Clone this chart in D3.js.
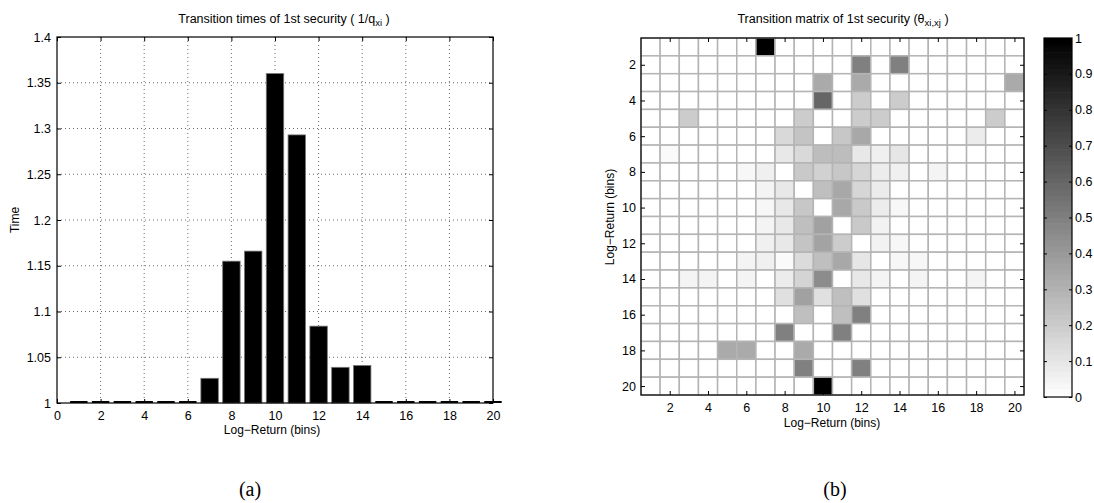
<!DOCTYPE html>
<html>
<head>
<meta charset="utf-8">
<script src="https://cdn.jsdelivr.net/npm/d3@7"></script>
<style>
  body { margin: 0; background: #fff; }
  svg { display: block; }
  text { font-family: "Liberation Sans", Arial, sans-serif; fill: #000; }
  .cap { font-family: "Liberation Serif", "DejaVu Serif", serif; }
</style>
</head>
<body>
<svg id="fig" width="1094" height="503"></svg>
<script>
// bins 1..20
const bins = d3.range(1, 21);
// mean transition time per bin (1/q_xi)
const transitionTimes = [1, 1, 1, 1, 1, 1, 1.027, 1.155, 1.166, 1.36, 1.293, 1.084, 1.039, 1.041, 1, 1, 1, 1, 1, 1];
const timeTicks = [1, 1.05, 1.1, 1.15, 1.2, 1.25, 1.3, 1.35, 1.4];
const binTicksA = d3.range(0, 21, 2);
const binTicksB = d3.range(2, 21, 2);
const colorTicks = d3.range(0, 11).map(d => d / 10);

// transition matrix theta (row = from bin, col = to bin)
const theta = [
  [0,0,0,0,0,0,1,0,0,0,0,0,0,0,0,0,0,0,0,0],
  [0,0,0,0,0,0,0,0,0,0,0,.5,0,.5,0,0,0,0,0,0],
  [0,0,0,0,0,0,0,0,0,.333,0,.333,0,0,0,0,0,0,0,.333],
  [0,0,0,0,0,0,0,0,0,.6,0,.2,0,.2,0,0,0,0,0,0],
  [0,0,.2,0,0,0,0,0,.2,0,0,.2,.2,0,0,0,0,0,.2,0],
  [0,0,0,0,0,0,0,.15,.23,0,.22,.34,0,0,0,0,0,.075,0,0],
  [0,.02,0,0,0,0,0,.09,.15,.26,.26,.09,.06,.1,0,0,0,0,0,0],
  [0,0,0,0,0,.03,.06,0,.21,.18,.22,.16,.075,.06,0,.045,0,0,0,0],
  [0,0,0,0,0,0,.045,.09,0,.25,.34,.16,.075,0,0,0,0,0,0,0],
  [0,0,0,0,0,0,.03,.09,.22,0,.34,.21,.075,.03,0,0,0,0,0,0],
  [0,0,0,0,0,0,.045,.09,.25,.37,0,.21,.05,0,0,0,0,0,0,0],
  [0,0,0,0,0,0,.06,.09,.23,.36,.2,0,.05,.03,0,0,0,0,0,0],
  [0,0,0,0,0,.045,.06,.02,.14,.25,.34,.1,0,.03,.03,0,0,0,0,0],
  [0,0,.045,.045,0,.045,0,.075,.17,.45,0,.09,.045,0,.045,0,0,.045,0,0],
  [0,0,0,0,0,0,0,.12,.37,.12,.25,.12,0,0,0,0,0,0,0,0],
  [0,0,0,0,0,0,0,0,.25,0,.25,.5,0,0,0,0,0,0,0,0],
  [0,0,0,0,0,0,0,.5,0,0,.5,0,0,0,0,0,0,0,0,0],
  [0,0,0,0,.333,.333,0,0,.333,0,0,0,0,0,0,0,0,0,0,0],
  [0,0,0,0,0,0,0,0,.5,0,0,.5,0,0,0,0,0,0,0,0],
  [0,0,0,0,0,0,0,0,0,1,0,0,0,0,0,0,0,0,0,0]
];

const svg = d3.select("#fig");

// ---------- (a) bar chart ----------
const A = {left: 57, right: 493, top: 37, bottom: 403};
const xA = d3.scaleLinear().domain([0, 20]).range([A.left, A.right]);
const yA = d3.scaleLinear().domain([1, 1.4]).range([A.bottom, A.top]);
const gA = svg.append("g");

// dotted grid
gA.selectAll(".gx").data(binTicksA.slice(1, -1)).join("line")
  .attr("x1", d => xA(d)).attr("x2", d => xA(d))
  .attr("y1", A.top).attr("y2", A.bottom)
  .attr("stroke", "#444").attr("stroke-width", 0.8).attr("stroke-dasharray", "1,3");
gA.selectAll(".gy").data(timeTicks.slice(1, -1)).join("line")
  .attr("x1", A.left).attr("x2", A.right)
  .attr("y1", d => yA(d)).attr("y2", d => yA(d))
  .attr("stroke", "#444").attr("stroke-width", 0.8).attr("stroke-dasharray", "1,3");

gA.selectAll("rect.bar").data(bins).join("rect")
  .attr("class", "bar")
  .attr("x", d => xA(d - 0.4))
  .attr("width", xA(0.8) - xA(0))
  .attr("y", (d, i) => yA(transitionTimes[i]))
  .attr("height", (d, i) => yA(1) - yA(transitionTimes[i]))
  .attr("fill", "#000").attr("stroke", "#777").attr("stroke-width", 0.8);
// zero-height bars show as thick baseline segments
gA.selectAll("line.zb").data(bins.filter((d, i) => transitionTimes[i] === 1)).join("line")
  .attr("x1", d => xA(d - 0.4)).attr("x2", d => xA(d + 0.4))
  .attr("y1", yA(1) - 1).attr("y2", yA(1) - 1)
  .attr("stroke", "#000").attr("stroke-width", 2);

// axes with inward ticks, box
gA.append("g").attr("transform", `translate(0,${A.bottom})`)
  .call(d3.axisBottom(xA).tickValues(binTicksA).tickSize(-4).tickPadding(8).tickFormat(d3.format("d")));
gA.append("g").attr("transform", `translate(0,${A.top})`)
  .call(d3.axisTop(xA).tickValues(binTicksA).tickSize(-4).tickFormat(""));
gA.append("g").attr("transform", `translate(${A.left},0)`)
  .call(d3.axisLeft(yA).tickValues(timeTicks).tickSize(-4).tickPadding(6).tickFormat(d => String(+d.toFixed(2))));
gA.append("g").attr("transform", `translate(${A.right},0)`)
  .call(d3.axisRight(yA).tickValues(timeTicks).tickSize(-4).tickFormat(""));
gA.selectAll(".domain").remove();
gA.selectAll(".tick line").attr("stroke", "#000");
gA.selectAll(".tick text").attr("font-size", 12.5).attr("font-family", "Liberation Sans, Arial, sans-serif");
gA.append("rect").attr("x", A.left).attr("y", A.top)
  .attr("width", A.right - A.left).attr("height", A.bottom - A.top)
  .attr("fill", "none").attr("stroke", "#000").attr("stroke-width", 1.2);

const tA = gA.append("text").attr("x", 284).attr("y", 23).attr("text-anchor", "middle").attr("font-size", 12.5);
tA.append("tspan").text("Transition times of 1st security ( 1/q");
tA.append("tspan").attr("dy", 3).attr("font-size", 9.5).text("xi");
tA.append("tspan").attr("dy", -3).text(" )");
gA.append("text").attr("x", 272).attr("y", 434).attr("text-anchor", "middle").attr("font-size", 12).text("Log\u2212Return (bins)");
gA.append("text").attr("transform", "translate(19,220) rotate(-90)").attr("text-anchor", "middle").attr("font-size", 12).text("Time");
gA.append("text").attr("class", "cap").attr("x", 250).attr("y", 496).attr("text-anchor", "middle").attr("font-size", 20).text("(a)");

// ---------- (b) heat map ----------
const B = {left: 641, right: 1024, top: 38, bottom: 395};
const xB = d3.scaleLinear().domain([0.5, 20.5]).range([B.left, B.right]);
const yB = d3.scaleLinear().domain([0.5, 20.5]).range([B.top, B.bottom]);
const shade = d3.scaleLinear().domain([0, 1]).range(["#ffffff", "#000000"]);
const gB = svg.append("g");

const cells = theta.flatMap((row, r) => row.map((v, c) => ({r: r + 1, c: c + 1, v})));
gB.selectAll("rect.cell").data(cells).join("rect")
  .attr("class", "cell")
  .attr("x", d => xB(d.c - 0.5)).attr("y", d => yB(d.r - 0.5))
  .attr("width", xB(1.5) - xB(0.5)).attr("height", yB(1.5) - yB(0.5))
  .attr("fill", d => shade(d.v))
  .attr("stroke", "#b4b4b4").attr("stroke-width", 1.5);

gB.append("g").attr("transform", `translate(0,${B.bottom})`)
  .call(d3.axisBottom(xB).tickValues(binTicksB).tickSize(-4).tickPadding(8));
gB.append("g").attr("transform", `translate(0,${B.top})`)
  .call(d3.axisTop(xB).tickValues(binTicksB).tickSize(-4).tickFormat(""));
gB.append("g").attr("transform", `translate(${B.left},0)`)
  .call(d3.axisLeft(yB).tickValues(binTicksB).tickSize(-4).tickPadding(5));
gB.append("g").attr("transform", `translate(${B.right},0)`)
  .call(d3.axisRight(yB).tickValues(binTicksB).tickSize(-4).tickFormat(""));
gB.selectAll(".domain").remove();
gB.selectAll(".tick line").attr("stroke", "#000");
gB.selectAll(".tick text").attr("font-size", 12.5).attr("font-family", "Liberation Sans, Arial, sans-serif");
gB.append("rect").attr("x", B.left).attr("y", B.top)
  .attr("width", B.right - B.left).attr("height", B.bottom - B.top)
  .attr("fill", "none").attr("stroke", "#000").attr("stroke-width", 1.2);

const tB = gB.append("text").attr("x", 843).attr("y", 23).attr("text-anchor", "middle").attr("font-size", 12.5);
tB.append("tspan").text("Transition matrix of 1st security (\u03b8");
tB.append("tspan").attr("dy", 3).attr("font-size", 9.5).text("xi,xj");
tB.append("tspan").attr("dy", -3).text(" )");
gB.append("text").attr("x", 832).attr("y", 427).attr("text-anchor", "middle").attr("font-size", 12).text("Log\u2212Return (bins)");
gB.append("text").attr("transform", "translate(614,217) rotate(-90)").attr("text-anchor", "middle").attr("font-size", 12).text("Log\u2212Return (bins)");
gB.append("text").attr("class", "cap").attr("x", 835).attr("y", 496).attr("text-anchor", "middle").attr("font-size", 20).text("(b)");

// colour bar
const C = {left: 1044, right: 1072, top: 38, bottom: 397};
const yC = d3.scaleLinear().domain([0, 1]).range([C.bottom, C.top]);
const levels = d3.range(0, 64).map(i => i / 63);
gB.selectAll("rect.lvl").data(levels).join("rect")
  .attr("class", "lvl")
  .attr("x", C.left).attr("width", C.right - C.left)
  .attr("y", d => yC(Math.min(1, d + 1 / 126)) )
  .attr("height", (yC(0) - yC(1)) / 63 + 0.6)
  .attr("fill", d => shade(d));
const gC = gB.append("g");
gC.append("g").attr("transform", `translate(${C.right},0)`)
  .call(d3.axisRight(yC).tickValues(colorTicks).tickSize(-3).tickPadding(3).tickFormat(d => String(+d.toFixed(1))));
gC.append("g").attr("transform", `translate(${C.left},0)`)
  .call(d3.axisLeft(yC).tickValues(colorTicks).tickSize(-3).tickFormat(""));
gC.selectAll(".domain").remove();
gC.selectAll(".tick line").attr("stroke", "#000");
gC.selectAll(".tick text").attr("font-size", 12.5).attr("font-family", "Liberation Sans, Arial, sans-serif");
gC.append("rect").attr("x", C.left).attr("y", C.top)
  .attr("width", C.right - C.left).attr("height", C.bottom - C.top)
  .attr("fill", "none").attr("stroke", "#000").attr("stroke-width", 1.2);
</script>
</body>
</html>
